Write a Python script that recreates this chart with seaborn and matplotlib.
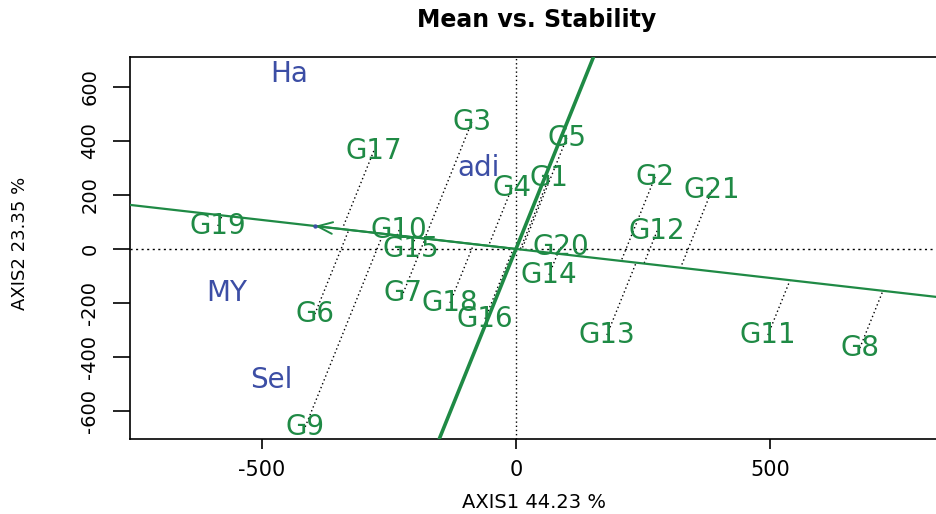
import numpy as np
import pandas as pd
import matplotlib
matplotlib.use("Agg")
import matplotlib.pyplot as plt
import seaborn as sns

# ---- data ----
genotypes = ["G1", "G2", "G3", "G4", "G5", "G6", "G7", "G8", "G9", "G10", "G11",
             "G12", "G13", "G14", "G15", "G16", "G17", "G18", "G19", "G20", "G21"]
gen_x = [65, 274, -87, -8, 100, -396, -222, 677, -415, -230, 496,
         278, 179, 65, -207, -61, -280, -130, -587, 89, 386]
gen_y = [263, 267, 470, 226, 411, -241, -163, -367, -659, 70, -319,
         67, -319, -96, 0, -259, 363, -200, 85, 7, 219]

environments = ["Ha", "adi", "MY", "Sel"]
env_x = [-447, -73, -569, -482]
env_y = [648, 300, -163, -485]

mean_env = [-396, 85]          # average-environment point (arrow tip)

xlim = (-760, 827)
ylim = (-704, 711)
x_ticks = [-500, 0, 500]
y_ticks = [-600, -400, -200, 0, 200, 400, 600]

title = "Mean vs. Stability"
xlabel = "AXIS1 44.23 %"
ylabel = "AXIS2 23.35 %"

GREEN = "#1f8a45"
BLUE = "#3c4ea5"

sns.set_theme(style="white")
plt.rcParams["font.family"] = ["DejaVu Sans"]

fig = plt.figure(figsize=(9.36, 5.14), dpi=100)
W, H = 936, 514
ax = fig.add_axes([130 / W, 1 - 439 / H, (936 - 130) / W, (439 - 57) / H])
ax.set_xlim(*xlim)
ax.set_ylim(*ylim)

# reference axes through origin
ax.axhline(0, color="black", lw=1, ls=(0, (1.5, 2.5)), zorder=1)
ax.axvline(0, color="black", lw=1, ls=(0, (1, 2)), zorder=1)

# average environment axis (ATA) and its perpendicular (ATC)
u = np.array(mean_env, dtype=float)
u /= np.linalg.norm(u)
slope = u[1] / u[0]
xs = np.array(xlim, dtype=float)
ata = pd.DataFrame({"x": xs, "y": slope * xs})
sns.lineplot(data=ata, x="x", y="y", color=GREEN, lw=1.6, ax=ax, zorder=3,
             estimator=None, sort=False)
ys = np.array(ylim, dtype=float)
atc = pd.DataFrame({"x": ys * (-slope), "y": ys})
sns.lineplot(data=atc, x="x", y="y", color=GREEN, lw=2.6, ax=ax, zorder=3,
             estimator=None, sort=False)

# projections of genotypes onto ATA
for gx, gy in zip(gen_x, gen_y):
    p = np.array([gx, gy], dtype=float)
    f = p.dot(u) * u
    ax.plot([gx, f[0]], [gy, f[1]], color="black", lw=1.0,
            ls=(0, (1, 2)), zorder=2)

# arrow for average environment
ax.annotate("", xy=(mean_env[0], mean_env[1]), xytext=(0, 0),
            arrowprops=dict(arrowstyle="->,head_length=0.9,head_width=0.35",
                            color=GREEN, lw=1.4, shrinkA=0, shrinkB=0), zorder=4)
sns.scatterplot(x=[mean_env[0]], y=[mean_env[1]], color=BLUE, s=8,
                edgecolor=None, ax=ax, zorder=5)

# labels
for name, gx, gy in zip(genotypes, gen_x, gen_y):
    ax.text(gx, gy, name, color=GREEN, fontsize=20, ha="center", va="center",
            zorder=6)
for name, ex, ey in zip(environments, env_x, env_y):
    ax.text(ex, ey, name, color=BLUE, fontsize=20, ha="center", va="center",
            zorder=6)

# axes styling
for s in ["left", "top", "bottom"]:
    ax.spines[s].set_visible(True)
    ax.spines[s].set_color("black")
    ax.spines[s].set_linewidth(1.2)
ax.spines["right"].set_visible(False)

ax.set_xticks(x_ticks)
ax.set_yticks(y_ticks)
ax.set_xticklabels([str(t) for t in x_ticks])
ax.set_yticklabels([str(t) for t in y_ticks], rotation=90, va="center")
ax.tick_params(axis="x", direction="out", length=7, width=1.2, color="black",
               labelsize=15, pad=8, bottom=True, labelcolor="black")
ax.tick_params(axis="y", direction="out", length=12, width=1.2, color="black",
               labelsize=14, pad=10, left=True, labelcolor="black")
ax.grid(False)
ax.set_xlabel("")
ax.set_ylabel("")

fig.text(537 / W, 1 - 20 / H, title, ha="center", va="center",
         fontsize=17, fontweight="bold", color="black")
fig.text(534 / W, 1 - 502 / H, xlabel, ha="center", va="center",
         fontsize=14, color="black")
fig.text(20 / W, 1 - 243 / H, ylabel, ha="center", va="center",
         fontsize=13, rotation=90, color="black")

fig.savefig("out.png", dpi=100, facecolor="white")
